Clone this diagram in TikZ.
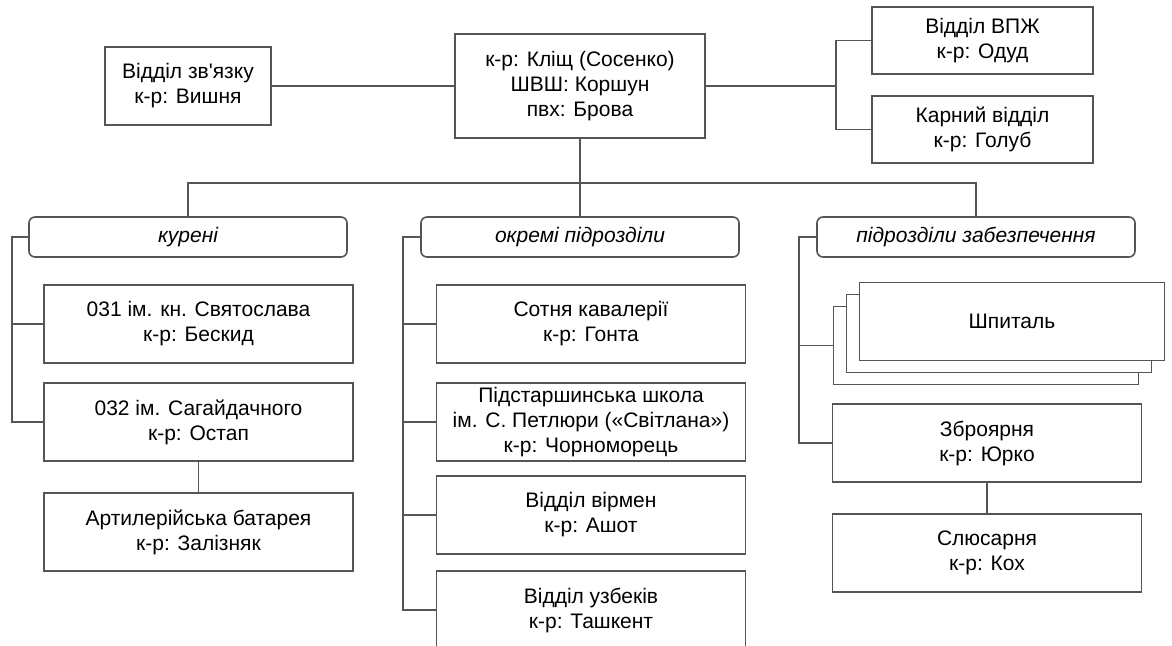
\documentclass[tikz,border=0pt]{standalone}
\usepackage{fontspec}
\setmainfont{Liberation Sans}[Ligatures=TeXOff]
\definecolor{linegray}{HTML}{555555}
\newcommand{\orgbox}[4][]{\node[box,#1] at (#2) (#3) {#4}}

\begin{document}
\begin{tikzpicture}[x=1pt,y=-1pt,
		box/.style={draw=linegray,line width=1.6pt,fill=white,minimum width=309pt,minimum height=78pt,inner sep=0pt,align=center,font=\fontsize{21}{25}\selectfont},
		head/.style={rounded corners=6pt,minimum width=318pt,minimum height=40pt,font=\fontsize{21}{25}\selectfont\itshape},
		link/.style={draw=linegray,line width=1.6pt}]
					\useasboundingbox (0,0) rectangle (1172,645);
					
					\orgbox[minimum width=166pt]{188,86}{zv}{Відділ зв'язку\\к-р: Вишня};
					\orgbox[minimum width=250pt,minimum height=104pt]{580,86}{main}{к-р: Кліщ (Сосенко)\\ШВШ: Коршун\\пвх: Брова};
					\orgbox[minimum width=221pt,minimum height=67pt]{982.5,40.5}{vpzh}{Відділ ВПЖ\\к-р: Одуд};
					\orgbox[minimum width=221pt,minimum height=67pt]{982.5,129.5}{karn}{Карний відділ\\к-р: Голуб};
					
					\orgbox[head]{188,237}{kur}{курені};
					\orgbox[head]{580,237}{okr}{окремі підрозділи};
					\orgbox[head]{976,237}{zab}{підрозділи забезпечення};
					
					\orgbox{198.5,324}{k31}{031 ім. кн. Святослава\\к-р: Бескид};
					\orgbox{198.5,422}{k32}{032 ім. Сагайдачного\\к-р: Остап};
					\orgbox{198.5,532}{art}{Артилерійська батарея\\к-р: Залізняк};
					
					\orgbox{591,324}{sot}{Сотня кавалерії\\к-р: Гонта};
					\orgbox{591,422}{shk}{Підстаршинська школа\\ім. С. Петлюри («Світлана»)\\к-р: Чорноморець};
					\orgbox{591,515}{virm}{Відділ вірмен\\к-р: Ашот};
					\orgbox{591,610}{uzb}{Відділ узбеків\\к-р: Ташкент};
					
					\orgbox[minimum width=305pt]{986,345.5}{shp3}{};
					\orgbox[minimum width=305pt]{999,333.5}{shp2}{};
					\orgbox[minimum width=305pt]{1012,321.5}{shp1}{Шпиталь};
					\orgbox{987,443}{zbr}{Зброярня\\к-р: Юрко};
					\orgbox{987,553}{slus}{Слюсарня\\к-р: Кох};
					
					\coordinate (rj) at (836,86);
					\coordinate (bar) at (580,183);
					\coordinate (kl) at (12,0);
					\coordinate (ol) at (403,0);
					\coordinate (zl) at (799,0);
					
					\draw[link] (zv) -- (main);
					\draw[link] (main.east) -- (rj);
					\draw[link] (vpzh.west) -| (rj);
					\draw[link] (karn.west) -| (rj);
					
					\draw[link] (main.south) -- (bar);
					\draw[link] (kur.north) |- (bar);
					\draw[link] (zab.north) |- (bar);
					\draw[link] (okr.north) -- (bar);
					
					\draw[link] (kur.west) -- (kur.west -| kl) |- (k32.west);
					\draw[link] (k31.west) -- (k31.west -| kl);
					\draw[link] (k32) -- (art);
					
					\draw[link] (okr.west) -- (okr.west -| ol) |- (uzb.west);
					\draw[link] (sot.west) -- (sot.west -| ol);
					\draw[link] (shk.west) -- (shk.west -| ol);
					\draw[link] (virm.west) -- (virm.west -| ol);
					
					\draw[link] (zab.west) -- (zab.west -| zl) |- (zbr.west);
					\draw[link] (shp3.west) -- (shp3.west -| zl);
					\draw[link] (zbr) -- (slus);
				\end{tikzpicture}
\end{document}
